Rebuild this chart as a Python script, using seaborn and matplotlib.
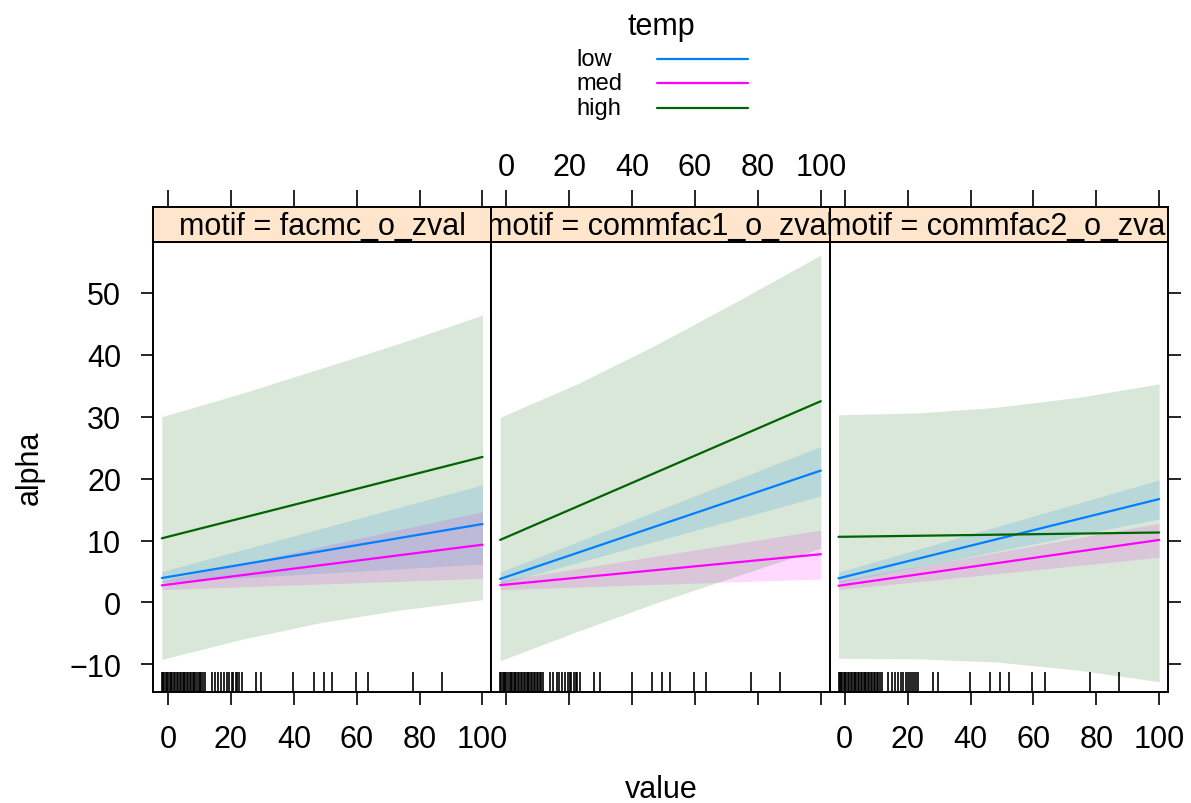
import numpy as np
import pandas as pd
import seaborn as sns
import matplotlib
matplotlib.use("Agg")
import matplotlib.pyplot as plt
from matplotlib.lines import Line2D
import matplotlib.transforms as mtransforms

sns.set_style("white")
plt.rcParams['font.family'] = ['Liberation Sans', 'DejaVu Sans']
for k in ["text.color", "axes.labelcolor", "xtick.color", "ytick.color"]:
    plt.rcParams[k] = "black"

# ---------------- data ----------------
motifs = ["facmc_o_zval", "commfac1_o_zval", "commfac2_o_zval"]
temps = ["low", "med", "high"]
colors = {"low": "#0080FF", "med": "#FF00FF", "high": "#006400"}

line_x = [-2, 100]
low_fit = [[3.95, 12.67], [3.8, 21.3], [3.9, 16.7]]
med_fit = [[2.77, 9.33], [2.8, 7.8], [2.7, 10.1]]
high_fit = [[10.36, 23.5], [10.1, 32.5], [10.6, 11.3]]

band_x = [-2, 100]
low_lo = [[3.26, 6.2], [3.0, 17.2], [3.2, 13.5]]
low_hi = [[5.0, 19.0], [4.9, 25.2], [4.9, 19.8]]
med_lo = [[2.07, 3.9], [2.07, 3.8], [2.07, 7.3]]
med_hi = [[3.5, 14.66], [3.5, 11.7], [3.5, 12.8]]

high_band_x = [-2, 23, 48, 74, 100]
high_lo = [[-9.2, -6.0, -3.3, -1.2, 0.45],
           [-9.4, -4.6, 0.0, 4.4, 8.75],
           [-9.0, -9.1, -9.6, -10.9, -12.8]]
high_hi = [[30.0, 33.7, 37.7, 41.9, 46.4],
           [29.9, 35.4, 41.7, 48.8, 56.1],
           [30.3, 30.6, 31.5, 33.1, 35.3]]

rug_values = [-2.0, -1.6, -1.2, -0.8, -0.4, 0.0, 0.5, 1.0, 1.4, 1.9, 2.3, 2.8,
              3.2, 3.7, 4.1, 4.6, 5.0, 5.5, 6.0, 6.4, 6.9, 7.3, 7.8, 8.3, 8.7,
              9.2, 9.7, 10.2, 10.6, 11.1, 11.7, 13.9, 14.9, 16.0, 16.8, 17.8,
              18.6, 19.5, 20.2, 20.7, 21.5, 22.0, 22.6, 23.4, 27.9, 29.7, 39.8,
              46.3, 49.5, 52.1, 59.7, 63.6, 77.9, 87.1]

x_ticks = [0, 20, 40, 60, 80, 100]
y_ticks = [-10, 0, 10, 20, 30, 40, 50]

# ---------------- layout ----------------
W, H = 1191, 804
fig = plt.figure(figsize=(W / 100, H / 100), dpi=100)

def fx(px):
    return px / W

def fy(py):
    return 1 - py / H

panel_left = [153, 491.3, 829.7]
panel_w = 338.3
panel_top, panel_bot = 243, 693
strip_top = 208

xlim = (-4.8, 102.8)
ylim = (-14.45, 58.2)
FS = 22

fits = {"low": low_fit, "med": med_fit, "high": high_fit}

for i, motif in enumerate(motifs):
    ax = fig.add_axes([fx(panel_left[i]), fy(panel_bot), panel_w / W,
                       (panel_bot - panel_top) / H])
    # bands
    for t, lo, hi, bx in [("low", low_lo, low_hi, band_x),
                          ("med", med_lo, med_hi, band_x),
                          ("high", high_lo, high_hi, high_band_x)]:
        ax.fill_between(bx, lo[i], hi[i], color=colors[t], alpha=0.15,
                        linewidth=0)
    # lines
    rows = []
    for t in temps:
        for xv, yv in zip(line_x, fits[t][i]):
            rows.append({"value": xv, "alpha": yv, "temp": t})
    df = pd.DataFrame(rows)
    sns.lineplot(data=df, x="value", y="alpha", hue="temp", hue_order=temps,
                 palette=colors, estimator=None, sort=False, legend=False,
                 linewidth=1.6, ax=ax)
    # rug
    trans = mtransforms.blended_transform_factory(ax.transData, ax.transAxes)
    ax.vlines(rug_values, 0, 0.045, transform=trans, color="black",
              linewidth=1.2)

    ax.set_xlim(*xlim)
    ax.set_ylim(*ylim)
    ax.set_xlabel("")
    ax.set_ylabel("")
    for sp in ax.spines.values():
        sp.set_linewidth(1.4)
        sp.set_color("black")
    ax.set_xticks(x_ticks)
    ax.tick_params(axis="x", direction="out", length=9, width=1.2,
                   labelsize=FS, pad=14, bottom=True, top=False)
    if i == 1:
        ax.set_xticklabels([])
    ax.set_yticks(y_ticks)
    if i == 0:
        ax.tick_params(axis="y", direction="out", length=9, width=1.2,
                       labelsize=FS, left=True, right=False, pad=14)
    elif i == 2:
        ax.tick_params(axis="y", direction="out", length=9, width=1.2,
                       left=False, right=True, labelleft=False,
                       labelright=False)
    else:
        ax.tick_params(axis="y", left=False, right=False, labelleft=False)

    # strip
    sax = fig.add_axes([fx(panel_left[i]), fy(panel_top), panel_w / W,
                        (panel_top - strip_top) / H])
    sax.set_facecolor("#FFE5CC")
    sax.set_xlim(*xlim)
    sax.set_ylim(0, 1)
    sax.set_yticks([])
    sax.set_xticks(x_ticks)
    sax.xaxis.set_ticks_position("top")
    sax.tick_params(axis="x", direction="out", length=12, width=1.2,
                    labelsize=FS, pad=6, top=True, bottom=False,
                    labeltop=(i == 1), labelbottom=False)
    for sp in sax.spines.values():
        sp.set_linewidth(1.4)
        sp.set_color("black")
    sax.text(0.5, 0.45, "motif = " + motif, transform=sax.transAxes,
             ha="center", va="center", fontsize=FS, clip_on=True)

# axis titles
fig.text(fx(30), fy(468), "alpha", rotation=90, ha="center", va="center",
         fontsize=FS)
fig.text(fx(661), fy(790), "value", ha="center", va="center", fontsize=FS)

# legend (lattice key)
fig.text(fx(661), fy(27), "temp", ha="center", va="center", fontsize=FS)
for t, yy in zip(temps, [60, 84, 109]):
    fig.text(fx(576), fy(yy), t, ha="left", va="center", fontsize=17)
    fig.add_artist(Line2D([fx(657), fx(748)], [fy(yy), fy(yy)],
                          color=colors[t], linewidth=1.6,
                          transform=fig.transFigure))

fig.savefig("out.png", dpi=100)
